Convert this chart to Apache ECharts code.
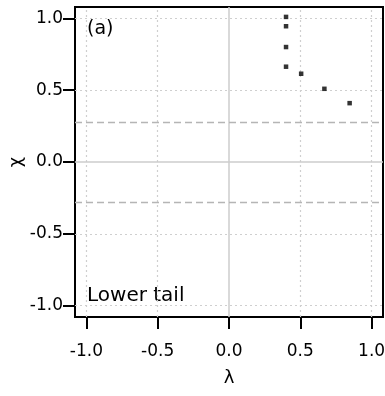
<!DOCTYPE html>
<html><head><meta charset="utf-8">
<script src="https://cdn.jsdelivr.net/npm/echarts@6/dist/echarts.min.js"></script>
<style>html,body{margin:0;padding:0;background:#fff}#c{width:385px;height:396px}</style>
</head><body><div id="c"></div>
<script>
const lambdaVals = [0.40, 0.40, 0.40, 0.40, 0.506, 0.669, 0.846];
const chiVals    = [1.011, 0.946, 0.801, 0.664, 0.615, 0.510, 0.410];
const tickValues = [-1.0, -0.5, 0.0, 0.5, 1.0];
const gridValues = [-1.0, -0.5, 0.5, 1.0];
const thresholdValues = [-0.285, 0.285];
const panelLabel = '(a)';
const tailLabel = 'Lower tail';

const FONT = 'DejaVu Sans';
const points = lambdaVals.map((x, i) => [x, chiVals[i]]);

const markData = [];
gridValues.forEach(v => {
  markData.push({xAxis: v, lineStyle: {color: '#cfcfcf', type: [2, 3], width: 1.2}});
  markData.push({yAxis: v, lineStyle: {color: '#cfcfcf', type: [2, 3], width: 1.2}});
});
markData.push({xAxis: 0, lineStyle: {color: '#cccccc', type: 'solid', width: 1.5}});
markData.push({yAxis: 0, lineStyle: {color: '#cccccc', type: 'solid', width: 1.5}});
thresholdValues.forEach(v => {
  markData.push({yAxis: v, lineStyle: {color: '#b5b5b5', type: [7, 4], width: 1.3}});
});

const chart = echarts.init(document.getElementById('c'), null, {renderer: 'canvas'});
chart.setOption({
  animation: false,
  backgroundColor: '#fff',
  grid: {left: 75, right: 2, top: 7, bottom: 79, outerBoundsMode: 'none', containLabel: false,
         show: true, borderColor: '#000', borderWidth: 2, backgroundColor: 'transparent'},
  xAxis: {
    type: 'value', min: -1.08, max: 1.08, splitLine: {show: false},
    axisLine: {show: true, onZero: false, lineStyle: {color: '#000', width: 2}},
    axisTick: {show: true, customValues: tickValues, length: 12, lineStyle: {color: '#000', width: 2}},
    axisLabel: {customValues: tickValues, margin: 26, color: '#000', fontFamily: FONT, fontSize: 17, formatter: v => v.toFixed(1)},
    name: 'λ', nameGap: 52, nameLocation: 'middle',
    nameTextStyle: {color: '#000', fontFamily: FONT, fontSize: 18}
  },
  yAxis: {
    type: 'value', min: -1.08, max: 1.08, splitLine: {show: false},
    axisLine: {show: true, onZero: false, lineStyle: {color: '#000', width: 2}},
    axisTick: {show: true, customValues: tickValues, length: 12, lineStyle: {color: '#000', width: 2}},
    axisLabel: {customValues: tickValues, margin: 12, color: '#000', fontFamily: FONT, fontSize: 17, formatter: v => v.toFixed(1)},
    name: 'χ', nameGap: 50, nameRotate: 90, nameLocation: 'middle', nameMoveOverlap: false,
    nameTextStyle: {color: '#000', fontFamily: FONT, fontSize: 18}
  },
  graphic: [
    {type: 'text', left: 87, top: 20, style: {text: panelLabel, fill: '#000', font: '19px "DejaVu Sans"'}},
    {type: 'text', left: 87, top: 286, style: {text: tailLabel, fill: '#000', font: '20px "DejaVu Sans"'}}
  ],
  series: [{
    type: 'scatter', data: points, symbol: 'rect', symbolSize: 4.5,
    itemStyle: {color: '#000'}, z: 5,
    markLine: {silent: true, symbol: ['none', 'none'], label: {show: false}, animation: false, data: markData}
  }]
});
</script></body></html>
